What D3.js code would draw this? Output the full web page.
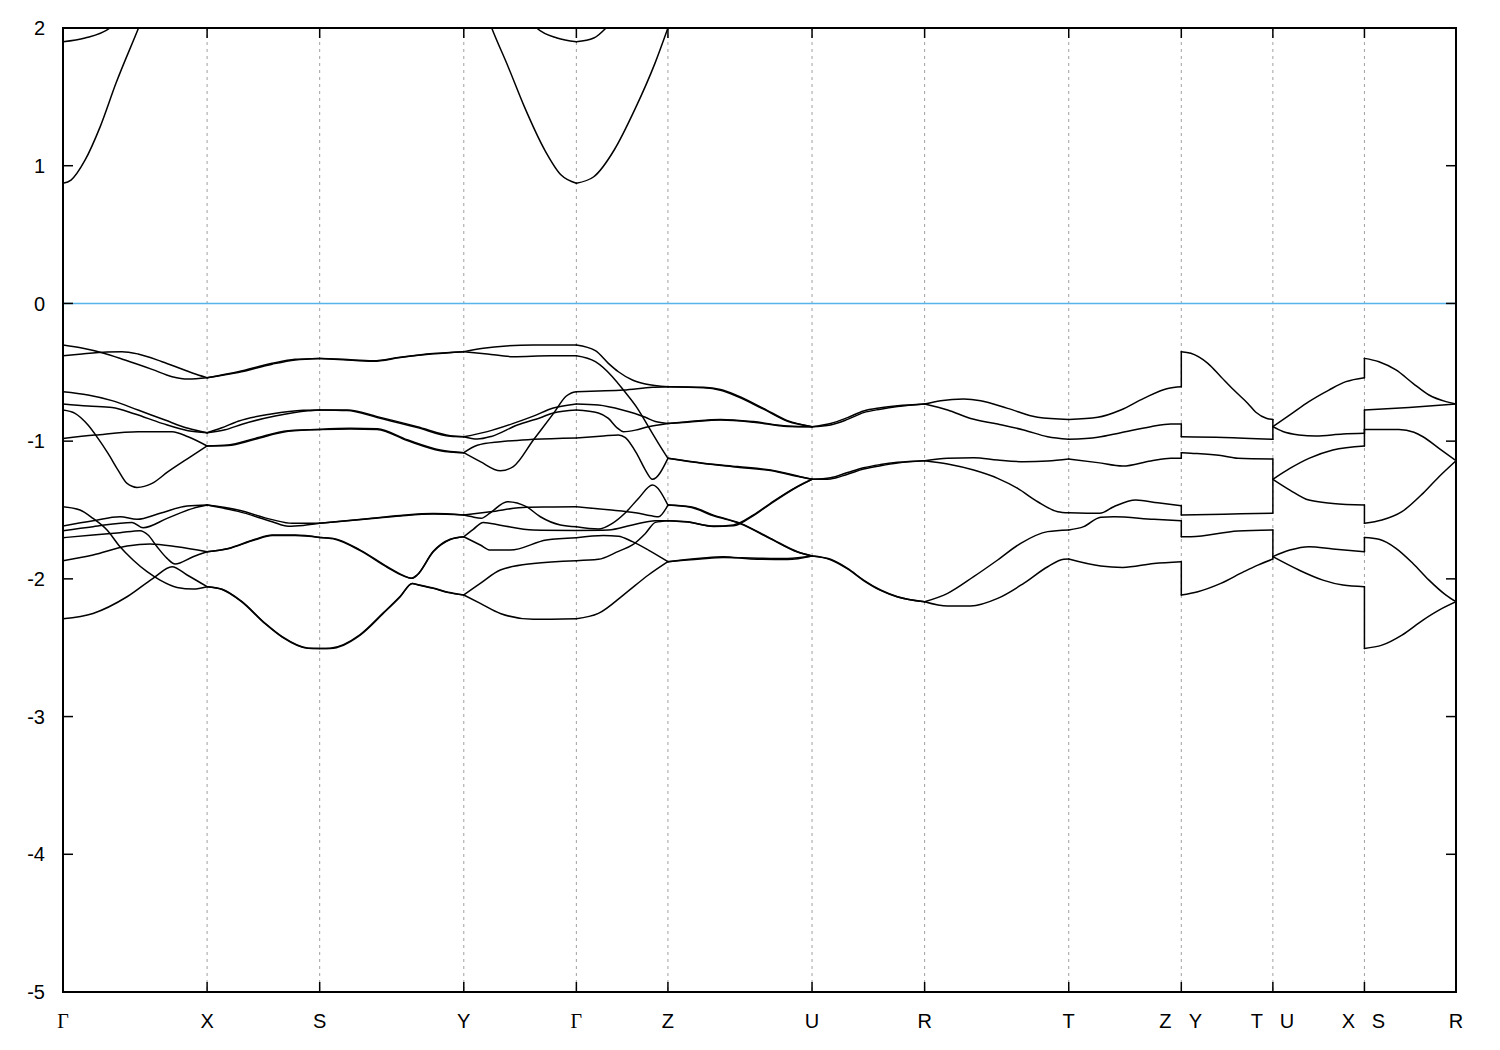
<!DOCTYPE html>
<html><head><meta charset="utf-8">
<script src="https://cdn.jsdelivr.net/npm/d3@7"></script>
<style>body{margin:0;background:#fff}</style>
</head><body><svg id="c" width="1500" height="1050"></svg>
<script>
// ---- k-path (high-symmetry points) ----
const kTicks=[0,144,256.5,400.5,513,604.5,748.5,861,1005,1117.5,1209,1300.5,1392];
const kLabels=["Γ","X","S","Y","Γ","Z","U","R","T","Z|Y","T|U","X|S","R"];
const yTicks=[2,1,0,-1,-2,-3,-4,-5];
const fermiLevel=0;

// ---- valence bands, per segment: curves of [k, E(eV)] ----
const segGX=[
 [[0,-0.302],[20,-0.326],[39,-0.358],[62,-0.411],[89,-0.479],[109,-0.532],[125,-0.549],[144,-0.539]],
 [[0,-0.380],[19,-0.367],[44,-0.353],[59,-0.350],[75,-0.367],[99,-0.423],[120,-0.480],[135,-0.520],[144,-0.539]],
 [[0,-0.641],[25,-0.665],[49,-0.706],[75,-0.774],[102,-0.847],[125,-0.907],[144,-0.939]],
 [[0,-0.730],[25,-0.745],[49,-0.755],[72,-0.803],[99,-0.871],[125,-0.924],[144,-0.939]],
 [[0,-0.774],[12,-0.798],[25,-0.883],[35,-0.980],[45,-1.089],[55,-1.210],[64,-1.307],[74,-1.336],[89,-1.307],[105,-1.222],[125,-1.125],[144,-1.035]],
 [[0,-0.980],[32,-0.956],[75,-0.931],[109,-0.931],[125,-0.968],[144,-1.035]],
 [[0,-1.476],[17,-1.500],[30,-1.561],[44,-1.645],[57,-1.767],[70,-1.863],[84,-1.948],[97,-2.009],[114,-2.062],[130,-2.074],[144,-2.057]],
 [[0,-1.616],[30,-1.578],[57,-1.549],[74,-1.568],[97,-1.524],[124,-1.471],[144,-1.464]],
 [[0,-1.650],[30,-1.621],[69,-1.590],[80,-1.629],[104,-1.561],[130,-1.488],[144,-1.464]],
 [[0,-1.701],[30,-1.682],[57,-1.665],[77,-1.650],[85,-1.682],[94,-1.767],[104,-1.851],[112,-1.892],[130,-1.839],[144,-1.803]],
 [[0,-1.868],[30,-1.827],[64,-1.762],[87,-1.747],[114,-1.767],[144,-1.803]],
 [[0,-2.290],[30,-2.251],[64,-2.130],[90,-1.996],[109,-1.912],[124,-1.972],[144,-2.057]]
];
const segXS=[
 [[144,-0.539],[175,-0.496],[209,-0.435],[232,-0.406],[256.5,-0.399]],
 [[144,-0.539],[175,-0.502],[209,-0.441],[232,-0.410],[256.5,-0.399]],
 [[144,-0.939],[158,-0.905],[175,-0.855],[208,-0.803],[240,-0.776],[256.5,-0.774]],
 [[144,-0.939],[162,-0.918],[179,-0.877],[212,-0.818],[245,-0.780],[256.5,-0.774]],
 [[144,-1.035],[165,-1.028],[192,-0.980],[225,-0.924],[256.5,-0.915]],
 [[144,-1.035],[165,-1.032],[192,-0.986],[225,-0.929],[256.5,-0.915]],
 [[144,-1.464],[175,-1.500],[209,-1.570],[229,-1.597],[256.5,-1.597]],
 [[144,-1.464],[175,-1.510],[209,-1.585],[225,-1.618],[240,-1.612],[256.5,-1.597]],
 [[144,-1.803],[165,-1.779],[192,-1.713],[209,-1.682],[232,-1.682],[256.5,-1.699]],
 [[144,-1.803],[165,-1.781],[192,-1.716],[209,-1.686],[232,-1.686],[256.5,-1.699]],
 [[144,-2.057],[159,-2.075],[178,-2.160],[202,-2.323],[219,-2.420],[245,-2.503],[256.5,-2.505]],
 [[144,-2.057],[159,-2.077],[178,-2.163],[202,-2.326],[219,-2.423],[245,-2.504],[256.5,-2.505]]
];
const segSY=[
 [[256.5,-0.399],[280,-0.406],[310,-0.416],[337,-0.390],[370,-0.364],[400.5,-0.350]],
 [[256.5,-0.399],[280,-0.409],[310,-0.420],[337,-0.393],[370,-0.366],[400.5,-0.350]],
 [[256.5,-0.774],[284,-0.774],[314,-0.822],[354,-0.895],[387,-0.960],[400.5,-0.968]],
 [[256.5,-0.774],[284,-0.778],[314,-0.828],[354,-0.902],[387,-0.965],[400.5,-0.968]],
 [[256.5,-0.915],[287,-0.907],[314,-0.910],[344,-0.990],[377,-1.064],[400.5,-1.084]],
 [[256.5,-0.915],[287,-0.911],[314,-0.915],[344,-0.996],[377,-1.069],[400.5,-1.084]],
 [[256.5,-1.597],[304,-1.563],[337,-1.540],[370,-1.526],[400.5,-1.536]],
 [[256.5,-1.597],[304,-1.566],[337,-1.543],[370,-1.529],[400.5,-1.536]],
 [[256.5,-1.699],[270,-1.706],[297,-1.791],[324,-1.912],[340,-1.975],[348,-1.996],[354,-1.970],[370,-1.800],[387,-1.712],[400.5,-1.694]],
 [[256.5,-1.699],[270,-1.709],[297,-1.795],[324,-1.916],[340,-1.978],[348,-1.996],[354,-1.972],[370,-1.803],[387,-1.714],[400.5,-1.694]],
 [[256.5,-2.505],[267,-2.505],[297,-2.408],[320,-2.251],[337,-2.130],[349,-2.033],[355,-2.045],[370,-2.069],[385,-2.100],[400.5,-2.117]],
 [[256.5,-2.505],[267,-2.503],[297,-2.404],[320,-2.247],[337,-2.126],[349,-2.033],[355,-2.043],[370,-2.067],[385,-2.098],[400.5,-2.117]]
];
const segYG=[
 [[400.5,-0.350],[420,-0.326],[443,-0.309],[470,-0.302],[513,-0.302]],
 [[400.5,-0.350],[424,-0.367],[450,-0.387],[487,-0.380],[513,-0.380]],
 [[400.5,-0.968],[424,-0.931],[450,-0.871],[470,-0.818],[490,-0.760],[513,-0.730]],
 [[400.5,-0.968],[414,-0.985],[428,-0.966],[454,-0.883],[477,-0.830],[490,-0.795],[513,-0.774]],
 [[400.5,-1.084],[417,-1.149],[437,-1.215],[450,-1.185],[470,-0.992],[490,-0.800],[503,-0.672],[508,-0.650],[513,-0.641]],
 [[400.5,-1.084],[414,-1.030],[437,-1.004],[470,-0.987],[513,-0.977]],
 [[400.5,-1.536],[408,-1.548],[418,-1.560],[427,-1.520],[444,-1.440],[463,-1.476],[477,-1.549],[497,-1.609],[513,-1.622]],
 [[400.5,-1.536],[427,-1.513],[463,-1.480],[490,-1.478],[513,-1.476]],
 [[400.5,-1.694],[410,-1.640],[420,-1.590],[437,-1.610],[470,-1.645],[513,-1.648]],
 [[400.5,-1.694],[417,-1.754],[427,-1.791],[447,-1.791],[483,-1.718],[513,-1.701]],
 [[400.5,-2.117],[417,-2.033],[437,-1.936],[470,-1.888],[513,-1.868]],
 [[400.5,-2.117],[417,-2.178],[437,-2.251],[470,-2.294],[513,-2.290]]
];
const segGZ=[
 [[513,-0.302],[532,-0.343],[545,-0.435],[555,-0.496],[569,-0.556],[582,-0.585],[604.5,-0.605]],
 [[513,-0.380],[532,-0.423],[549,-0.532],[560,-0.629],[574,-0.762],[585,-0.895],[595,-1.016],[604.5,-1.125]],
 [[513,-0.641],[535,-0.636],[560,-0.629],[589,-0.609],[604.5,-0.605]],
 [[513,-0.730],[535,-0.738],[559,-0.774],[582,-0.827],[592,-0.858],[604.5,-0.871]],
 [[513,-0.774],[535,-0.795],[545,-0.835],[554,-0.905],[560,-0.931],[572,-0.920],[585,-0.895],[604.5,-0.871]],
 [[513,-0.977],[540,-0.962],[555,-0.955],[562,-0.975],[574,-1.100],[582,-1.210],[589,-1.277],[604.5,-1.125]],
 [[513,-1.476],[545,-1.498],[572,-1.520],[590,-1.545],[595,-1.549],[604.5,-1.464]],
 [[513,-1.622],[535,-1.638],[549,-1.597],[562,-1.520],[575,-1.416],[589,-1.319],[604.5,-1.464]],
 [[513,-1.648],[545,-1.645],[569,-1.609],[592,-1.578],[604.5,-1.578]],
 [[513,-1.701],[540,-1.685],[555,-1.690],[569,-1.730],[585,-1.791],[604.5,-1.875]],
 [[513,-1.868],[535,-1.858],[555,-1.800],[569,-1.754],[582,-1.670],[592,-1.590],[604.5,-1.578]],
 [[513,-2.290],[535,-2.251],[562,-2.105],[585,-1.972],[604.5,-1.875]]
];
const segZU=[
 [[604.5,-0.605],[640,-0.609],[657,-0.625],[674,-0.670],[700,-0.762],[724,-0.851],[748.5,-0.895]],
 [[604.5,-0.605],[640,-0.612],[657,-0.630],[674,-0.676],[700,-0.768],[724,-0.856],[748.5,-0.895]],
 [[604.5,-0.871],[624,-0.860],[657,-0.842],[690,-0.858],[724,-0.890],[748.5,-0.895]],
 [[604.5,-0.871],[624,-0.862],[657,-0.846],[690,-0.862],[724,-0.893],[748.5,-0.895]],
 [[604.5,-1.125],[640,-1.160],[674,-1.185],[707,-1.210],[737,-1.258],[748.5,-1.277]],
 [[604.5,-1.125],[640,-1.163],[674,-1.189],[707,-1.214],[737,-1.261],[748.5,-1.277]],
 [[604.5,-1.464],[627,-1.476],[650,-1.537],[677,-1.597],[707,-1.706],[734,-1.803],[748.5,-1.834]],
 [[604.5,-1.464],[627,-1.480],[650,-1.542],[677,-1.600],[707,-1.709],[734,-1.805],[748.5,-1.834]],
 [[604.5,-1.578],[624,-1.585],[650,-1.620],[670,-1.615],[690,-1.540],[707,-1.455],[734,-1.331],[748.5,-1.277]],
 [[604.5,-1.578],[624,-1.588],[650,-1.617],[670,-1.608],[690,-1.536],[707,-1.451],[734,-1.329],[748.5,-1.277]],
 [[604.5,-1.875],[637,-1.851],[660,-1.839],[687,-1.855],[724,-1.860],[748.5,-1.834]],
 [[604.5,-1.875],[637,-1.855],[660,-1.845],[687,-1.848],[724,-1.852],[748.5,-1.834]]
];
const segUR=[
 [[748.5,-0.895],[767,-0.872],[784,-0.829],[800,-0.781],[817,-0.758],[834,-0.743],[861,-0.730]],
 [[748.5,-0.895],[767,-0.882],[784,-0.842],[800,-0.793],[817,-0.768],[834,-0.749],[861,-0.730]],
 [[748.5,-1.277],[767,-1.266],[784,-1.228],[800,-1.193],[817,-1.170],[834,-1.154],[861,-1.142]],
 [[748.5,-1.277],[767,-1.274],[784,-1.240],[800,-1.203],[817,-1.178],[834,-1.158],[861,-1.142]],
 [[748.5,-1.834],[767,-1.858],[784,-1.924],[800,-2.009],[817,-2.081],[834,-2.130],[861,-2.166]],
 [[748.5,-1.834],[767,-1.861],[784,-1.928],[800,-2.012],[817,-2.084],[834,-2.132],[861,-2.166]]
];
const segRT=[
 [[861,-0.730],[877,-0.706],[900,-0.694],[917,-0.706],[944,-0.762],[974,-0.827],[1005,-0.842]],
 [[861,-0.730],[884,-0.774],[907,-0.835],[934,-0.876],[960,-0.919],[984,-0.968],[1005,-0.987]],
 [[861,-1.142],[884,-1.125],[910,-1.120],[934,-1.137],[960,-1.149],[984,-1.144],[1005,-1.130]],
 [[861,-1.142],[884,-1.166],[910,-1.210],[934,-1.270],[954,-1.343],[974,-1.440],[994,-1.512],[1005,-1.520]],
 [[861,-2.166],[884,-2.105],[910,-1.984],[934,-1.863],[957,-1.742],[984,-1.657],[1005,-1.645]],
 [[861,-2.166],[884,-2.197],[907,-2.197],[934,-2.142],[960,-2.033],[984,-1.912],[1000,-1.858],[1005,-1.856]]
];
const segTZ=[
 [[1005,-0.842],[1034,-0.827],[1057,-0.774],[1080,-0.689],[1104,-0.617],[1117.5,-0.605]],
 [[1005,-0.987],[1034,-0.972],[1057,-0.939],[1087,-0.895],[1107,-0.876],[1117.5,-0.876]],
 [[1005,-1.130],[1034,-1.156],[1059,-1.181],[1087,-1.144],[1107,-1.125],[1117.5,-1.125]],
 [[1005,-1.520],[1036,-1.524],[1050,-1.476],[1072,-1.428],[1094,-1.448],[1117.5,-1.469]],
 [[1005,-1.645],[1020,-1.621],[1037,-1.552],[1050,-1.549],[1090,-1.568],[1117.5,-1.578]],
 [[1005,-1.856],[1037,-1.907],[1059,-1.917],[1090,-1.888],[1117.5,-1.875]]
];
const segYT=[
 [[1117.5,-0.350],[1127,-0.362],[1144,-0.435],[1157,-0.532],[1170,-0.629],[1184,-0.726],[1192,-0.790],[1203,-0.835],[1209,-0.842]],
 [[1117.5,-0.968],[1160,-0.973],[1209,-0.987]],
 [[1117.5,-1.084],[1127,-1.088],[1157,-1.105],[1174,-1.125],[1209,-1.130]],
 [[1117.5,-1.536],[1160,-1.530],[1209,-1.524]],
 [[1117.5,-1.694],[1127,-1.694],[1174,-1.652],[1209,-1.645]],
 [[1117.5,-2.117],[1134,-2.093],[1157,-2.033],[1180,-1.948],[1194,-1.900],[1209,-1.856]]
];
const segUX=[
 [[1209,-0.895],[1226,-0.810],[1245,-0.713],[1265,-0.629],[1282,-0.568],[1300.5,-0.539]],
 [[1209,-0.895],[1219,-0.930],[1235,-0.955],[1252,-0.963],[1279,-0.948],[1300.5,-0.943]],
 [[1209,-1.277],[1226,-1.198],[1245,-1.125],[1269,-1.064],[1300.5,-1.035]],
 [[1209,-1.277],[1226,-1.355],[1245,-1.428],[1269,-1.452],[1300.5,-1.464]],
 [[1209,-1.839],[1226,-1.791],[1245,-1.766],[1269,-1.783],[1300.5,-1.803]],
 [[1209,-1.839],[1235,-1.936],[1259,-2.009],[1279,-2.045],[1300.5,-2.057]]
];
const segSR=[
 [[1300.5,-0.399],[1315,-0.423],[1332,-0.483],[1349,-0.580],[1365,-0.665],[1382,-0.713],[1392,-0.730]],
 [[1300.5,-0.774],[1345,-0.755],[1392,-0.730]],
 [[1300.5,-0.915],[1335,-0.915],[1350,-0.935],[1359,-0.968],[1375,-1.052],[1392,-1.142]],
 [[1300.5,-1.597],[1318,-1.573],[1338,-1.512],[1359,-1.379],[1375,-1.258],[1392,-1.142]],
 [[1300.5,-1.699],[1315,-1.713],[1332,-1.778],[1349,-1.888],[1365,-2.009],[1382,-2.118],[1392,-2.166]],
 [[1300.5,-2.505],[1318,-2.481],[1338,-2.408],[1359,-2.299],[1375,-2.227],[1392,-2.166]]
];
// conduction bands (clipped at the top of the frame)
const cbGX=[
 [[0,0.873],[8,0.896],[22,1.04],[37,1.28],[53,1.60],[75.5,2.0],[100,2.45],[144,2.9]],
 [[0,1.900],[22,1.927],[47,2.0],[80,2.3],[144,2.8]]
];
const cbYG=[
 [[400.5,2.6],[428.4,2.0],[444.7,1.721],[461,1.429],[481.4,1.114],[497.8,0.932],[513,0.873]],
 [[440,2.4],[473.3,2.0],[493.7,1.927],[513,1.900]]
];
const cbGZ=[
 [[513,0.873],[530.4,0.92],[550.8,1.114],[571.2,1.405],[591.6,1.745],[604.5,2.0]],
 [[513,1.900],[530.4,1.927],[542.6,2.0],[570,2.3],[604.5,2.6]]
];
// discontinuities of the path: [E before, E after]
const jumpZY=[[-0.605,-0.350],[-0.876,-0.968],[-1.125,-1.084],[-1.469,-1.536],[-1.578,-1.694],[-1.875,-2.117]];
const jumpTU=[[-0.842,-0.895],[-0.987,-0.895],[-1.130,-1.277],[-1.520,-1.277],[-1.645,-1.839],[-1.856,-1.839]];
const jumpXS=[[-0.539,-0.399],[-0.943,-0.774],[-1.035,-0.915],[-1.464,-1.597],[-1.803,-1.699],[-2.057,-2.505]];
const jumpK=[1117.5,1209,1300.5];

// ---- drawing ----
const svg=d3.select("#c");
const L=63,R=1456,T=28,B=992;
const x=d3.scaleLinear().domain([kTicks[0],kTicks[kTicks.length-1]]).range([L,R]);
const y=d3.scaleLinear().domain([-5,2]).range([B,T]);

svg.append("defs").append("clipPath").attr("id","plot").append("rect")
  .attr("x",L).attr("y",T).attr("width",R-L).attr("height",B-T);

// grid
svg.append("g").selectAll("line").data(kTicks.slice(1,-1)).join("line")
  .attr("x1",d=>x(d)).attr("x2",d=>x(d)).attr("y1",T).attr("y2",B)
  .attr("stroke","#a0a0a0").attr("stroke-width",1).attr("stroke-dasharray","3,4");

// Fermi level
svg.append("line").attr("x1",L).attr("x2",R).attr("y1",y(fermiLevel)).attr("y2",y(fermiLevel))
  .attr("stroke","#56b4e9").attr("stroke-width",1.5);

const gB=svg.append("g").attr("clip-path","url(#plot)");
const line=d3.line().x(d=>x(d[0])).y(d=>y(d[1])).curve(d3.curveMonotoneX);
const allCurves=[].concat(segGX,segXS,segSY,segYG,segGZ,segZU,segUR,segRT,segTZ,segYT,segUX,segSR,cbGX,cbYG,cbGZ);
gB.selectAll("path.band").data(allCurves).join("path").attr("class","band")
  .attr("d",line).attr("fill","none").attr("stroke","#000").attr("stroke-width",1.5)
  .attr("stroke-linejoin","round").attr("stroke-linecap","round");
[jumpZY,jumpTU,jumpXS].forEach((jp,i)=>{
  gB.append("g").selectAll("line").data(jp).join("line")
    .attr("x1",x(jumpK[i])).attr("x2",x(jumpK[i]))
    .attr("y1",d=>y(d[0])).attr("y2",d=>y(d[1]))
    .attr("stroke","#000").attr("stroke-width",1.5).attr("stroke-linecap","round");
});

// frame
svg.append("rect").attr("x",L).attr("y",T).attr("width",R-L).attr("height",B-T)
  .attr("fill","none").attr("stroke","#000").attr("stroke-width",2);

// ticks
const tk=svg.append("g").attr("stroke","#000").attr("stroke-width",1.5);
kTicks.forEach(k=>{
  tk.append("line").attr("x1",x(k)).attr("x2",x(k)).attr("y1",T).attr("y2",T+10);
  tk.append("line").attr("x1",x(k)).attr("x2",x(k)).attr("y1",B).attr("y2",B-10);
});
yTicks.forEach(v=>{
  tk.append("line").attr("x1",L).attr("x2",L+10).attr("y1",y(v)).attr("y2",y(v));
  tk.append("line").attr("x1",R).attr("x2",R-10).attr("y1",y(v)).attr("y2",y(v));
});

// y labels
svg.append("g").selectAll("text").data(yTicks).join("text")
  .attr("x",45).attr("y",d=>y(d)).attr("dy","0.36em").attr("text-anchor","end")
  .attr("font-family","Liberation Sans, Arial, sans-serif").attr("font-size",20)
  .text(d=>d);

// x labels
const gl=svg.append("g").attr("font-size",20).attr("text-anchor","middle");
kTicks.forEach((k,i)=>{
  const parts=kLabels[i].split("|");
  const offs=parts.length===2?[-16,14]:[0];
  parts.forEach((p,j)=>{
    gl.append("text").attr("x",x(k)+offs[j]).attr("y",1028)
      .attr("font-family",p==="Γ"?"Liberation Serif, Times New Roman, serif":"Liberation Sans, Arial, sans-serif")
      .text(p);
  });
});
</script></body></html>
